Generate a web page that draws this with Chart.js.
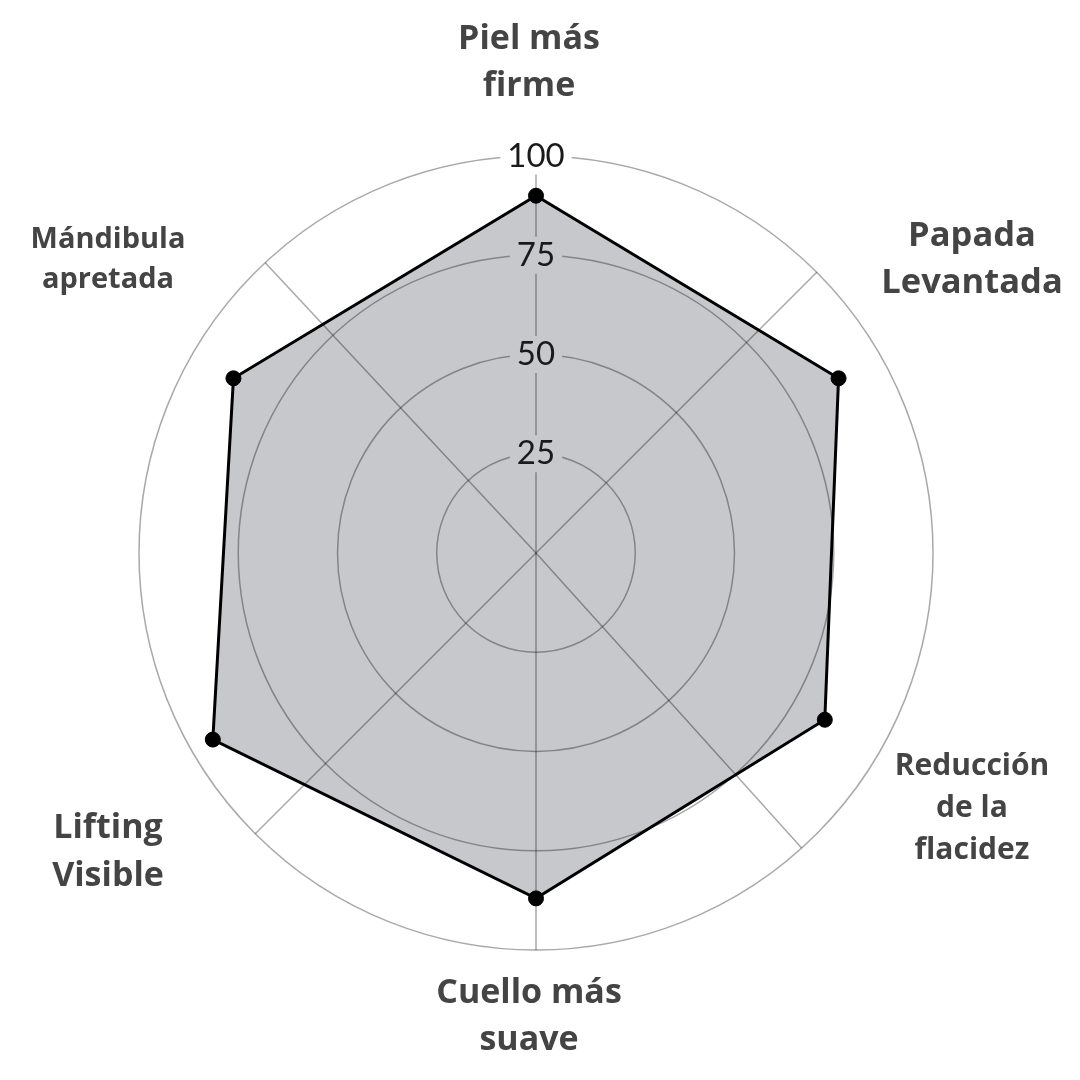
<!DOCTYPE html>
<html><head><meta charset="utf-8">
<script src="https://cdn.jsdelivr.net/npm/chart.js@4.4.1/dist/chart.umd.min.js"></script>
<style>html,body{margin:0;padding:0;background:#fff}#wrap{width:1080px;height:1080px;position:relative}</style>
</head><body><div id="wrap"><canvas id="c"></canvas></div>
<script>
// ---- data ----
const categories = [
  ["Piel más", "firme"],
  ["Papada", "Levantada"],
  ["Reducción", "de la", "flacidez"],
  ["Cuello más", "suave"],
  ["Lifting", "Visible"],
  ["Mándibula", "apretada"]
];
const values = [90, 88, 84, 87, 94, 88];
const tickLabels = ["25", "50", "75", "100"];
const scaleMin = 0, scaleMax = 100, scaleStep = 25;

// ---- styles / layout ----
const fillColor = '#c7c8cc';
const gridColor = 'rgba(0,0,0,0.34)';
const spokeAngles = [0, 45, 138, 180, 225, 317]; // degrees clockwise from top
const labelStyle = [
  {dx: -7,   dy: -490, size: 34, lh: 47},
  {dx: 436,  dy: -293, size: 34.5, lh: 47},
  {dx: 436,  dy: 255,  size: 30, lh: 42},
  {dx: -7,   dy: 464,  size: 34, lh: 47},
  {dx: -428, dy: 299,  size: 34, lh: 48},
  {dx: -428, dy: -293, size: 29, lh: 40}
];

const spokesPlugin = {
  id: 'spokes',
  afterDatasetsDraw(chart) {
    const s = chart.scales.r, ctx = chart.ctx;
    ctx.save();
    ctx.strokeStyle = gridColor;
    ctx.lineWidth = 1.5;
    spokeAngles.forEach(a => {
      const rad = (a - 90) * Math.PI / 180;
      ctx.beginPath();
      ctx.moveTo(s.xCenter, s.yCenter);
      ctx.lineTo(s.xCenter + Math.cos(rad) * s.drawingArea, s.yCenter + Math.sin(rad) * s.drawingArea);
      ctx.stroke();
    });
    ctx.restore();
  }
};

const labelsPlugin = {
  id: 'catLabels',
  afterDraw(chart) {
    const s = chart.scales.r, ctx = chart.ctx;
    ctx.save();
    ctx.fillStyle = '#444444';
    ctx.textAlign = 'center';
    ctx.textBaseline = 'middle';
    chart.data.labels.forEach((lines, i) => {
      const st = labelStyle[i];
      ctx.font = 'bold ' + st.size + 'px "Open Sans", sans-serif';
      const n = lines.length;
      lines.forEach((t, k) => {
        ctx.fillText(t, s.xCenter + st.dx, s.yCenter + st.dy + (k - (n - 1) / 2) * st.lh);
      });
    });
    ctx.restore();
  }
};

new Chart(document.getElementById('c'), {
  type: 'radar',
  data: {
    labels: categories,
    datasets: [{
      data: values,
      backgroundColor: fillColor,
      borderColor: '#000',
      borderWidth: 3,
      pointRadius: 7.5,
      pointBackgroundColor: '#000',
      pointBorderColor: '#000',
      pointBorderWidth: 1,
      fill: true
    }]
  },
  options: {
    responsive: true,
    maintainAspectRatio: false,
    animation: false,
    layout: {padding: {left: 121, right: 128, top: 138, bottom: 111}},
    plugins: {legend: {display: false}, tooltip: {enabled: false}},
    scales: {
      r: {
        min: scaleMin, max: scaleMax,
        angleLines: {display: false},
        grid: {z: 1, circular: true, color: gridColor, lineWidth: 1.5},
        pointLabels: {display: false},
        ticks: {
          z: 1,
          stepSize: scaleStep,
          color: '#1a1a1a',
          font: {family: 'Lato, "DejaVu Sans", sans-serif', size: 33, weight: '400', lineHeight: 1},
          showLabelBackdrop: true,
          backdropPadding: {x: 7, y: 2},
          backdropColor: (ctx) => (ctx.tick && ctx.tick.value < values[0]) ? fillColor : '#ffffff',
          callback: (v) => {
            const idx = [25, 50, 75, 100].indexOf(v);
            return idx >= 0 ? tickLabels[idx] : '';
          }
        }
      }
    }
  },
  plugins: [spokesPlugin, labelsPlugin]
});
</script>
</body></html>
